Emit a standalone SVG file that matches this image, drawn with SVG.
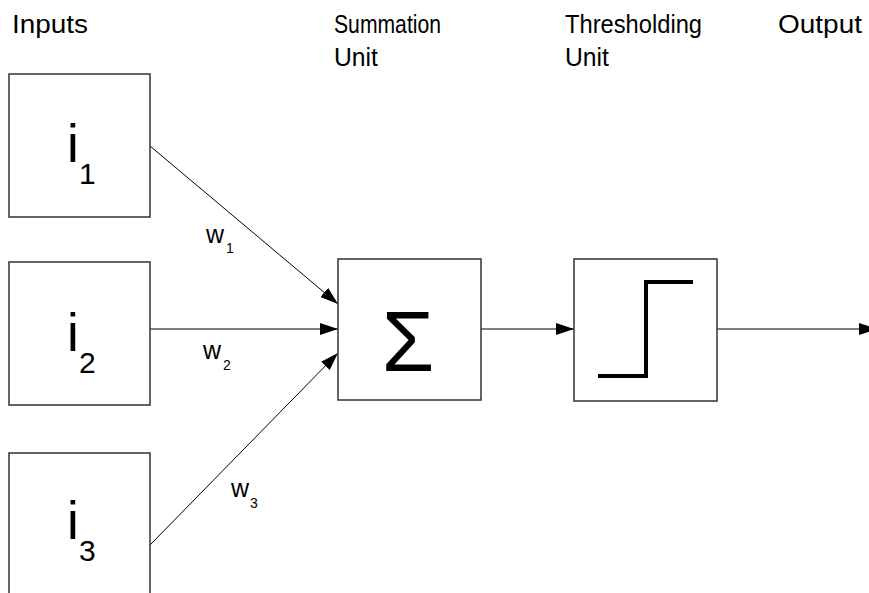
<svg xmlns="http://www.w3.org/2000/svg" width="869" height="593" viewBox="0 0 869 593">
<defs>
<style>
.box{fill:#fff;stroke:#333;stroke-width:1.5}
.lbl{font-family:"Liberation Sans",Arial,sans-serif;font-size:26px;fill:#000}
.big{font-family:"Liberation Sans",Arial,sans-serif;font-size:53px;fill:#000}
.sub{font-family:"Liberation Sans",Arial,sans-serif;font-size:30px;fill:#000}
.w{font-family:"Liberation Sans",Arial,sans-serif;font-size:25px;fill:#000}
.ws{font-family:"Liberation Sans",Arial,sans-serif;font-size:14px;fill:#000}
.con{stroke:#000;stroke-width:1;fill:none;marker-end:url(#ah)}
</style>
<marker id="ah" viewBox="0 0 18 12" refX="18" refY="6" markerWidth="18" markerHeight="12" markerUnits="userSpaceOnUse" orient="auto">
<path d="M0,0 L18,6 L0,12 Z" fill="#000"/>
</marker>
</defs>
<rect width="869" height="593" fill="#fff"/>
<g id="headers">
<text class="lbl" x="12" y="33" textLength="76" lengthAdjust="spacingAndGlyphs">Inputs</text>
<text class="lbl" x="334" y="33" textLength="107" lengthAdjust="spacingAndGlyphs">Summation</text>
<text class="lbl" x="334" y="66" textLength="44" lengthAdjust="spacingAndGlyphs">Unit</text>
<text class="lbl" x="565" y="33" textLength="137" lengthAdjust="spacingAndGlyphs">Thresholding</text>
<text class="lbl" x="565" y="66" textLength="44" lengthAdjust="spacingAndGlyphs">Unit</text>
<text class="lbl" x="778" y="33" textLength="84" lengthAdjust="spacingAndGlyphs">Output</text>
</g>
<g id="connectors">
<line class="con" x1="150" y1="146" x2="338" y2="304"/>
<line class="con" x1="150" y1="329" x2="338" y2="329"/>
<line class="con" x1="150" y1="545" x2="338" y2="353"/>
<line class="con" x1="481" y1="329" x2="574" y2="329"/>
<line class="con" x1="717" y1="329" x2="877" y2="329"/>
</g>
<g id="weights">
<text class="w" x="206" y="243">w</text><text class="ws" x="226" y="253">1</text>
<text class="w" x="203" y="359">w</text><text class="ws" x="223" y="370">2</text>
<text class="w" x="231" y="497">w</text><text class="ws" x="250" y="508">3</text>
</g>
<g id="i1">
<rect class="box" x="9" y="74" width="141" height="143"/>
<text class="big" x="67" y="162">i</text><text class="sub" x="79" y="184">1</text>
</g>
<g id="i2">
<rect class="box" x="9" y="262" width="141" height="143"/>
<text class="big" x="67" y="351">i</text><text class="sub" x="79" y="373">2</text>
</g>
<g id="i3">
<rect class="box" x="9" y="453" width="141" height="160"/>
<text class="big" x="67" y="539">i</text><text class="sub" x="79" y="561">3</text>
</g>
<g id="sum">
<rect class="box" x="338" y="259" width="143" height="141"/>
<text class="big" x="408" y="371" text-anchor="middle" style="font-size:85px">Σ</text>
</g>
<g id="threshold">
<rect class="box" x="574" y="259" width="143" height="142"/>
<path d="M598,376 H646 V282 H693" fill="none" stroke="#000" stroke-width="4"/>
</g>
</svg>
